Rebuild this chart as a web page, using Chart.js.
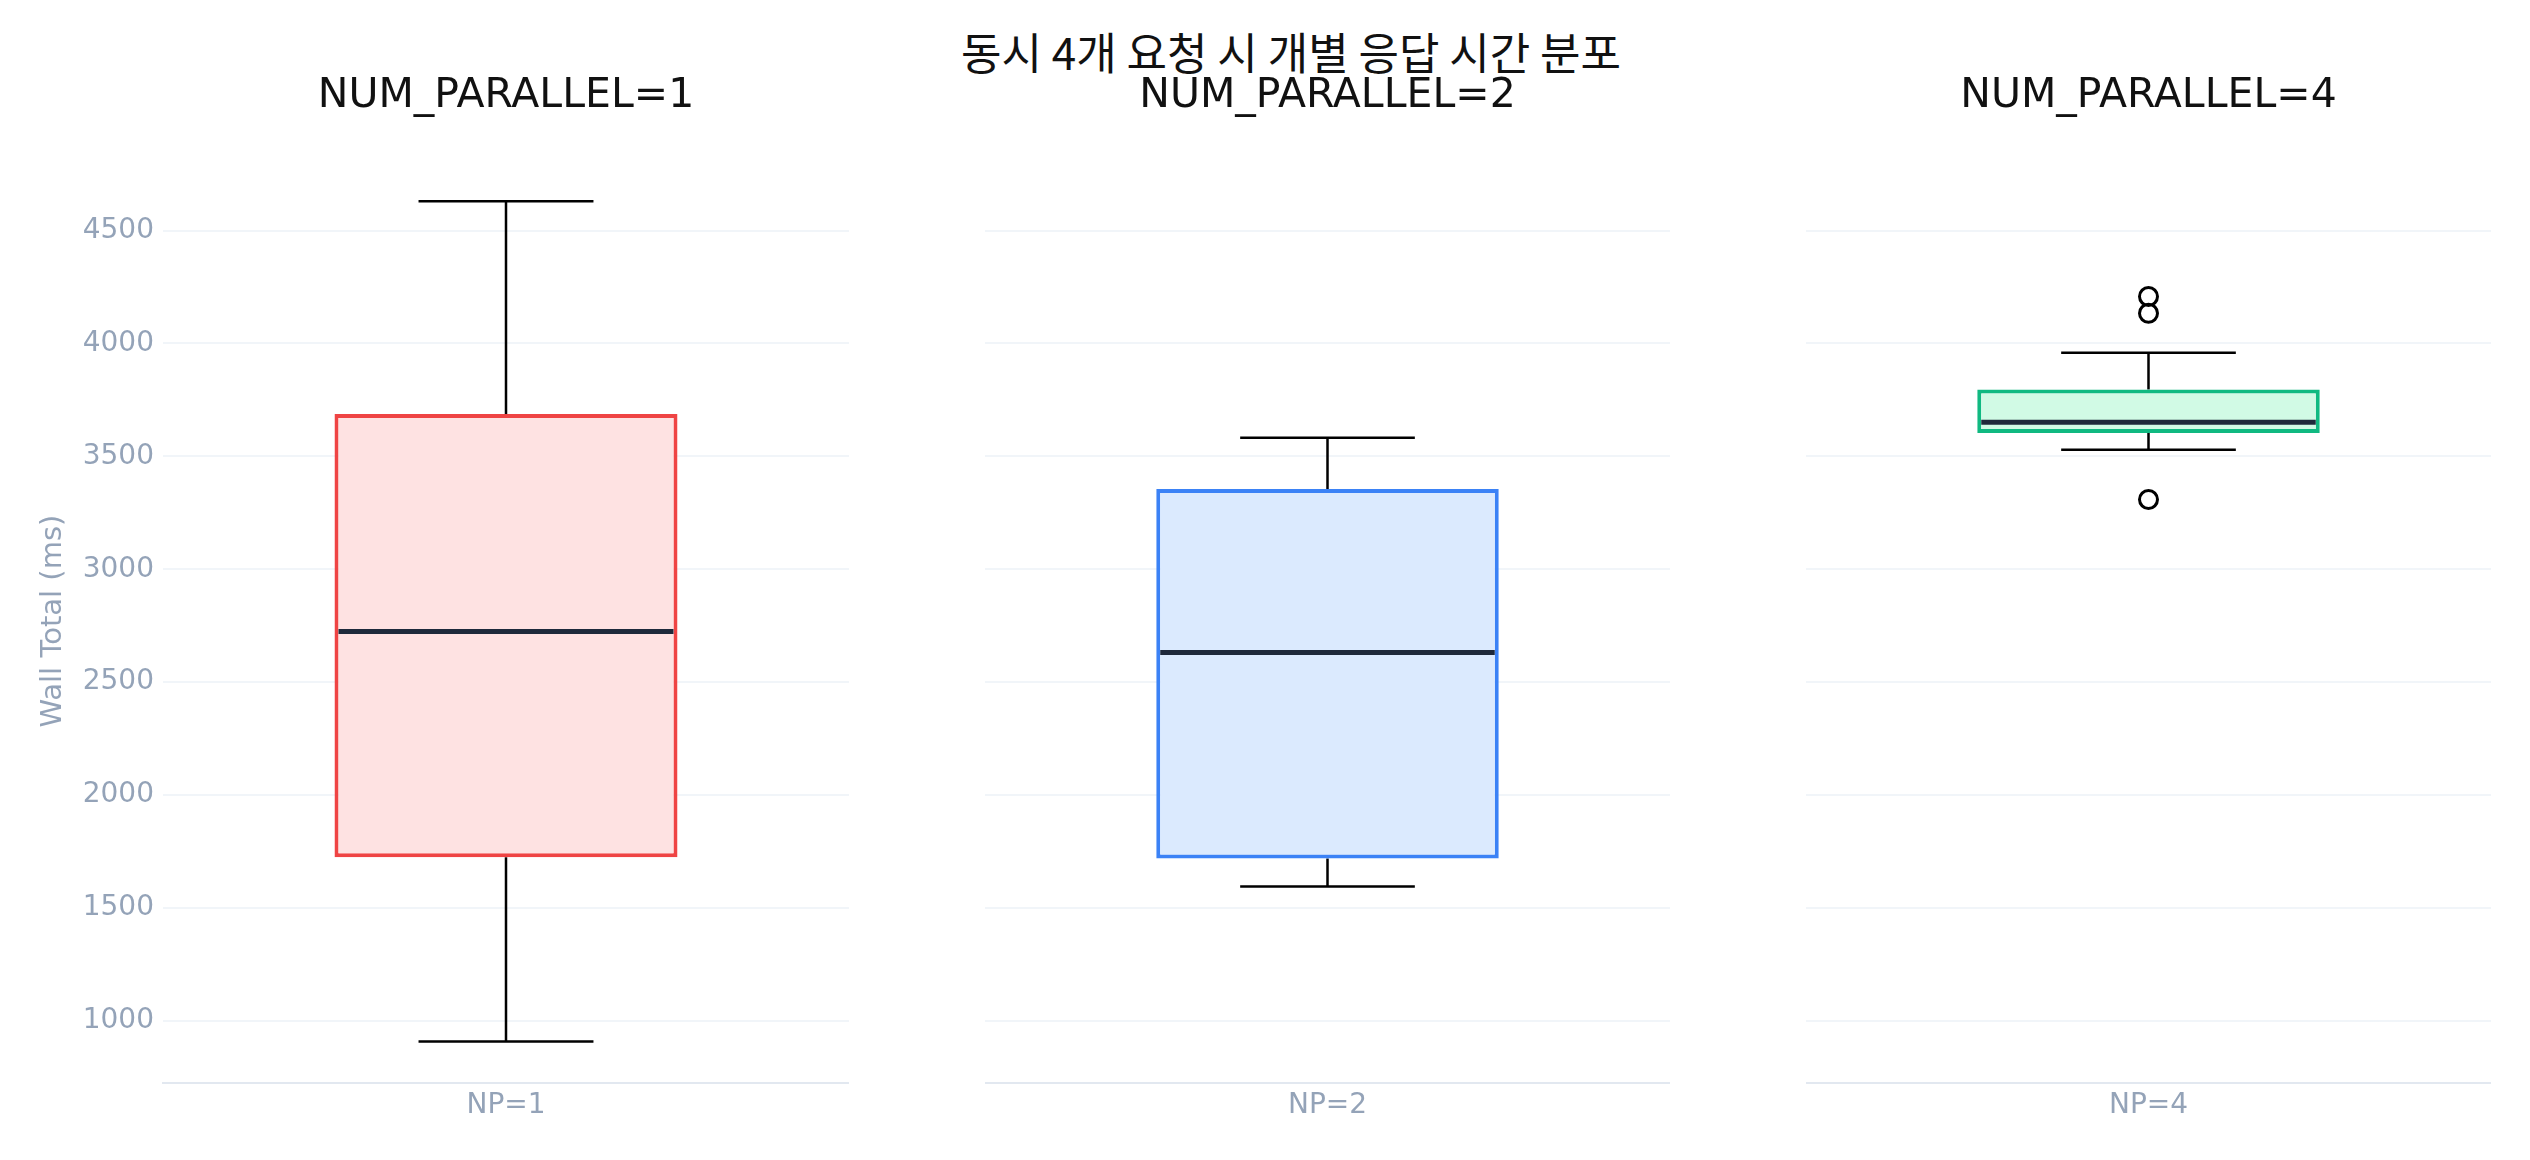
<!DOCTYPE html>
<html>
<head>
<meta charset="utf-8">
<script src="https://cdn.jsdelivr.net/npm/chart.js@4.4.1/dist/chart.umd.min.js"></script>
<style>
  html, body { margin:0; padding:0; background:#ffffff; width:2530px; height:1160px; overflow:hidden; }
  body { position:relative; }
  .panel { position:absolute; top:0; }
  #mainTitle { position:absolute; left:0; top:29px; width:2582px; text-align:center;
    font-family:'Noto Sans CJK KR', sans-serif; font-size:44px; line-height:44px; color:#111; white-space:nowrap; }
</style>
</head>
<body>
<div id="mainTitle"></div>
<canvas id="c0" class="panel"></canvas>
<canvas id="c1" class="panel"></canvas>
<canvas id="c2" class="panel"></canvas>
<script>
// ---------------- data ----------------
const mainTitle = '동시 4개 요청 시 개별 응답 시간 분포';
const categories = ['NP=1', 'NP=2', 'NP=4'];
const panelTitles = ['NUM_PARALLEL=1', 'NUM_PARALLEL=2', 'NUM_PARALLEL=4'];
const whiskerLow  = [909, 1595, 3529];
const q1          = [1725, 1719, 3604];
const median      = [2724, 2631, 3651];
const q3          = [3688, 3356, 3796];
const whiskerHigh = [4630, 3582, 3959];
const outliers    = [[], [], [4208, 4134, 3309]];
const yTicks = [1000, 1500, 2000, 2500, 3000, 3500, 4000, 4500];
const yAxisTitle = 'Wall Total (ms)';
const yRange = [725, 4816];

// ---------------- styles / layout ----------------
const fills   = ['#fee2e2', '#dbeafe', '#d1fae5'];
const strokes = ['#ef4444', '#3b82f6', '#10b981'];
const panelLeft   = [0, 985, 1806];
const panelWidth  = [849, 685, 685];
const yAxisWidth  = [163, 0, 0];

document.getElementById('mainTitle').textContent = mainTitle;
Chart.defaults.font.family = "'DejaVu Sans', sans-serif";

const boxPlugin = {
  id: 'boxparts',
  beforeDatasetsDraw(chart, args, opts) {
    const i = opts.idx;
    const bar = chart.getDatasetMeta(0).data[0];
    const { x, width } = bar.getProps(['x', 'width'], true);
    const ys = chart.scales.y;
    const ctx = chart.ctx;
    const yl = ys.getPixelForValue(whiskerLow[i]);
    const y1 = ys.getPixelForValue(q1[i]);
    const y3 = ys.getPixelForValue(q3[i]);
    const yh = ys.getPixelForValue(whiskerHigh[i]);
    const cw = width * 0.51;
    ctx.save();
    ctx.strokeStyle = '#000000';
    ctx.lineWidth = 2.5;
    ctx.beginPath();
    ctx.moveTo(x, y3); ctx.lineTo(x, yh);
    ctx.moveTo(x - cw / 2, yh); ctx.lineTo(x + cw / 2, yh);
    ctx.moveTo(x, y1); ctx.lineTo(x, yl);
    ctx.moveTo(x - cw / 2, yl); ctx.lineTo(x + cw / 2, yl);
    ctx.stroke();
    ctx.restore();
  },
  afterDatasetsDraw(chart, args, opts) {
    const i = opts.idx;
    const bar = chart.getDatasetMeta(0).data[0];
    const { x, width } = bar.getProps(['x', 'width'], true);
    const ys = chart.scales.y;
    const ctx = chart.ctx;
    const ym = ys.getPixelForValue(median[i]);
    ctx.save();
    ctx.strokeStyle = '#1e293b';
    ctx.lineWidth = 5;
    ctx.beginPath();
    ctx.moveTo(x - width / 2 + 4, ym);
    ctx.lineTo(x + width / 2 - 4, ym);
    ctx.stroke();
    ctx.restore();
  }
};

function makePanel(i) {
  const cv = document.getElementById('c' + i);
  cv.width = panelWidth[i];
  cv.height = 1160;
  cv.style.left = panelLeft[i] + 'px';
  cv.style.width = panelWidth[i] + 'px';
  cv.style.height = '1160px';
  new Chart(cv, {
    type: 'bar',
    data: {
      labels: [categories[i]],
      datasets: [
        {
          type: 'bar',
          data: [[q1[i], q3[i]]],
          backgroundColor: fills[i],
          borderColor: strokes[i],
          borderWidth: 4,
          borderSkipped: false,
          barPercentage: 0.5,
          categoryPercentage: 1,
          order: 2
        },
        {
          type: 'scatter',
          data: outliers[i].map(v => ({ x: categories[i], y: v })),
          pointRadius: 9,
          pointBorderWidth: 3,
          borderColor: '#000000',
          backgroundColor: 'rgba(0,0,0,0)',
          order: 1
        }
      ]
    },
    options: {
      responsive: false,
      animation: false,
      devicePixelRatio: 1,
      layout: { padding: 0, autoPadding: false },
      plugins: {
        legend: { display: false },
        tooltip: { enabled: false },
        title: {
          display: true,
          fullSize: false,
          text: panelTitles[i],
          color: '#111111',
          font: { family: "'DejaVu Sans', sans-serif", size: 41, weight: 'normal' },
          padding: { top: 72, bottom: 38 }
        },
        boxparts: { idx: i }
      },
      scales: {
        x: {
          grid: { display: false, drawTicks: false },
          border: { display: true, color: '#e2e8f0', width: 2 },
          ticks: { color: '#94a3b8', font: { size: 28 }, padding: 6 },
          afterFit(s) { s.height = 77; }
        },
        y: {
          min: yRange[0],
          max: yRange[1],
          afterBuildTicks(s) { s.ticks = yTicks.map(v => ({ value: v })); },
          grid: { color: '#f1f5f9', lineWidth: 2, drawTicks: false },
          border: { display: false },
          ticks: {
            display: i === 0, color: '#94a3b8', font: { size: 28 }, padding: 9,
            callback: v => String(v)
          },
          title: {
            display: i === 0,
            text: yAxisTitle,
            color: '#94a3b8',
            font: { size: 29 },
            padding: { top: 36, bottom: 0 }
          },
          afterFit(s) { s.width = yAxisWidth[i]; }
        }
      }
    },
    plugins: [boxPlugin]
  });
}

[0, 1, 2].forEach(makePanel);
</script>
</body>
</html>
